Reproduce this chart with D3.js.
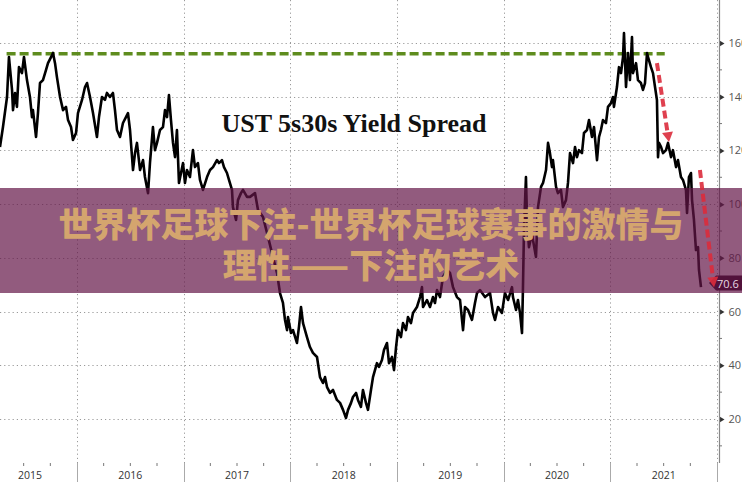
<!DOCTYPE html>
<html><head><meta charset="utf-8">
<script src="https://cdn.jsdelivr.net/npm/d3@7"></script>
<style>html,body{margin:0;padding:0;background:#fff;overflow:hidden}</style>
</head><body>
<svg id="c" width="742" height="482"></svg>
<script>
// ---- data (decimal year, spread in bp) ----
const dates = [2015.278,2015.306,2015.344,2015.362,2015.391,2015.400,2015.419,2015.437,2015.456,2015.484,2015.503,2015.531,2015.559,2015.578,2015.587,2015.616,2015.634,2015.653,2015.681,2015.709,2015.728,2015.766,2015.775,2015.794,2015.812,2015.841,2015.869,2015.897,2015.916,2015.944,2015.962,2015.991,
2016.009,2016.047,2016.075,2016.094,2016.122,2016.150,2016.187,2016.206,2016.234,2016.262,2016.281,2016.309,2016.337,2016.356,2016.375,2016.403,2016.431,2016.459,2016.478,2016.497,2016.525,2016.544,2016.562,2016.591,2016.619,2016.637,2016.666,2016.684,2016.712,2016.731,2016.750,2016.778,2016.806,2016.825,2016.844,2016.862,2016.881,2016.900,2016.919,2016.937,2016.956,2016.975,2016.994,
2017.012,2017.031,2017.059,2017.087,2017.106,2017.134,2017.153,2017.181,2017.219,2017.247,2017.275,2017.312,2017.331,2017.359,2017.378,2017.406,2017.425,2017.453,2017.462,2017.491,2017.509,2017.537,2017.556,2017.594,2017.622,2017.669,2017.697,2017.744,2017.791,2017.837,2017.875,2017.903,2017.931,2017.950,2017.969,2017.978,
2018.006,2018.025,2018.062,2018.081,2018.100,2018.119,2018.156,2018.184,2018.212,2018.250,2018.278,2018.306,2018.325,2018.344,2018.372,2018.400,2018.437,2018.466,2018.494,2018.522,2018.541,2018.569,2018.587,2018.616,2018.634,2018.662,2018.681,2018.709,2018.728,2018.756,2018.775,2018.812,2018.831,2018.859,2018.878,2018.906,2018.925,2018.953,2018.972,2018.991,
2019.009,2019.037,2019.056,2019.084,2019.103,2019.131,2019.150,2019.187,2019.216,2019.234,2019.244,2019.281,2019.309,2019.337,2019.356,2019.375,2019.403,2019.431,2019.469,2019.497,2019.525,2019.562,2019.591,2019.619,2019.637,2019.666,2019.703,2019.731,2019.750,2019.778,2019.825,2019.872,2019.900,2019.919,2019.947,2019.984,
2020.012,2020.041,2020.078,2020.087,2020.116,2020.134,2020.153,2020.172,2020.181,2020.191,2020.209,2020.219,2020.237,2020.266,2020.275,2020.303,2020.322,2020.350,2020.369,2020.397,2020.416,2020.434,2020.453,2020.462,2020.491,2020.509,2020.537,2020.556,2020.584,2020.603,2020.622,2020.650,2020.669,2020.687,2020.706,2020.734,2020.753,2020.781,2020.800,2020.828,2020.847,2020.875,2020.894,2020.912,2020.931,2020.959,2020.978,
2021.006,2021.025,2021.034,2021.062,2021.081,2021.100,2021.119,2021.128,2021.147,2021.166,2021.184,2021.203,2021.212,2021.241,2021.259,2021.287,2021.306,2021.325,2021.344,2021.353,2021.381,2021.400,2021.419,2021.437,2021.447,2021.456,2021.475,2021.494,2021.522,2021.541,2021.569,2021.587,2021.616,2021.634,2021.662,2021.681,2021.709,2021.719,2021.737,2021.756,2021.766,2021.784,2021.803,2021.822,2021.831,2021.850];
const spread = [121.3,128.7,139.9,154.8,142.5,135.0,141.4,136.2,151.0,148.8,154.8,146.2,139.9,132.4,135.0,125.0,133.9,145.1,146.2,149.9,152.5,155.5,156.3,152.5,147.3,139.9,135.0,136.2,131.3,128.7,123.9,126.5,
133.9,138.8,143.6,145.1,139.9,133.9,125.0,132.4,139.9,138.8,141.4,139.9,141.4,135.0,127.6,125.0,130.2,132.4,133.9,127.6,112.7,119.0,122.8,112.7,116.4,110.1,104.1,115.3,128.7,120.1,122.8,127.6,128.7,135.0,132.4,140.6,131.3,122.8,117.5,127.6,107.9,111.6,115.3,
107.9,112.7,110.1,120.1,113.8,115.3,109.0,105.3,110.1,112.7,113.8,116.4,115.3,116.4,113.8,111.6,109.0,105.3,98.9,94.1,101.5,104.1,105.3,102.7,102.7,104.1,97.8,95.2,87.8,80.3,74.4,66.9,63.2,56.9,53.1,58.0,
52.0,53.1,48.3,54.3,61.7,55.7,50.5,46.8,44.6,43.1,35.6,33.4,35.6,31.9,29.7,30.8,27.1,26.0,23.4,20.4,23.4,26.0,28.2,29.7,27.1,24.5,30.8,26.0,23.4,30.8,35.6,40.8,39.4,42.0,45.7,48.3,40.8,43.1,38.2,46.8,
53.1,50.5,55.7,53.1,58.0,55.7,59.5,61.7,65.4,69.1,61.7,64.3,61.7,65.4,63.2,68.0,65.4,72.9,75.5,74.4,69.1,65.4,64.3,53.1,61.7,60.6,56.9,63.2,66.9,68.0,65.4,66.9,59.5,56.9,61.7,59.5,
66.9,64.3,69.1,65.4,60.6,64.3,59.5,52.0,69.1,91.5,110.1,94.1,84.0,89.2,86.6,80.3,98.9,106.4,107.9,112.7,122.8,119.0,113.8,116.4,106.4,104.1,105.3,98.9,101.5,107.9,119.0,115.3,121.3,117.5,120.1,119.0,126.5,127.6,131.3,125.0,128.7,116.4,125.0,127.6,131.3,130.2,136.2,
137.6,139.9,136.2,143.6,151.0,148.8,154.8,163.7,143.6,156.3,146.2,162.2,148.8,152.5,146.2,145.1,142.5,145.1,156.3,154.8,151.0,148.8,143.6,138.8,117.5,122.8,121.3,119.0,120.1,122.8,117.5,120.1,113.8,116.4,110.1,109.0,105.3,96.7,110.1,111.6,101.5,94.1,82.9,84.0,75.5,69.1];

const yTicks = [20,40,60,80,100,120,140,160];
const yMinorTicks = [10,30,50,70,90,110,130,150];
const yearLabels = ["2015","2016","2017","2018","2019","2020","2021"];
const yearStarts = [2015,2016,2017,2018,2019,2020,2021,2022];
const refLevel = 156;                  // green dashed "prior peak" line
const refSpan = [2015.34, 2021.51];
const arrow1 = [[2021.437,152.5],[2021.550,123.1]];
const arrow2 = [[2021.840,112.7],[2021.972,69.1]];
const lastLabel = "70.6";
const lastValue = 70.6;
const titleText = "UST 5s30s Yield Spread";
const bannerLines = ["世界杯足球下注-世界杯足球赛事的激情与","理性——下注的艺术"];

// ---- drawing ----
const svg = d3.select("#c");
const W = 742, H = 482, plotR = 719, plotB = 463;
const x = d3.scaleLinear().domain([2016, 2022]).range([77, 717]);
const y = d3.scaleLinear().domain([20, 160]).range([419, 43]);

svg.append("rect").attr("width", W).attr("height", H).attr("fill", "#fff");
svg.append("clipPath").attr("id","pc").append("rect").attr("x",0).attr("y",0).attr("width",plotR).attr("height",plotB);

// gridlines
const grid = svg.append("g").attr("stroke","#9a9a9a").attr("stroke-width",1).attr("stroke-dasharray","1.2,3");
grid.selectAll(".h").data(yTicks).join("line")
  .attr("x1",0).attr("x2",717).attr("y1",d=>Math.round(y(d))+0.5).attr("y2",d=>Math.round(y(d))+0.5);
grid.selectAll(".v").data(yearStarts.slice(1)).join("line")
  .attr("x1",d=>Math.round(x(d))+0.5).attr("x2",d=>Math.round(x(d))+0.5).attr("y1",0).attr("y2",plotB);

// right axis
const ax = svg.append("g").attr("transform",`translate(${plotR+0.5},0)`)
  .call(d3.axisRight(y).tickValues(yTicks).tickSize(0).tickPadding(9).tickFormat(d3.format("d")));
ax.select(".domain").remove();
ax.selectAll("text").attr("font-family","Open Sans, sans-serif").attr("font-size",11).attr("fill","#555");
ax.selectAll(".tick").append("path").attr("d","M0,-3L5,0L0,3Z").attr("fill","#333");
svg.append("line").attr("x1",plotR+0.5).attr("x2",plotR+0.5).attr("y1",0).attr("y2",plotB).attr("stroke","#888").attr("stroke-width",1.2);
svg.selectAll(".mt").data(yMinorTicks).join("line")
  .attr("x1",plotR).attr("x2",plotR+3).attr("y1",d=>y(d)).attr("y2",d=>y(d)).attr("stroke","#777");

// bottom axis band
const quarters = [];
yearStarts.slice(0,-1).forEach(yr => [0.25,0.5,0.75].forEach(q => quarters.push(yr+q)));
svg.selectAll(".qt").data(quarters.filter(d=>x(d)>0)).join("line")
  .attr("x1",d=>x(d)).attr("x2",d=>x(d)).attr("y1",plotB).attr("y2",plotB+3).attr("stroke","#777");
svg.selectAll(".ys").data(yearStarts.slice(1)).join("line")
  .attr("x1",d=>Math.round(x(d))+0.5).attr("x2",d=>Math.round(x(d))+0.5)
  .attr("y1",plotB).attr("y2",H).attr("stroke","#aaa");
svg.selectAll(".yl").data(yearLabels).join("text")
  .attr("x",(d,i)=>Math.max(30,(x(yearStarts[i])+x(yearStarts[i+1]))/2))
  .attr("y",476).attr("text-anchor","middle").attr("dominant-baseline","middle")
  .attr("font-family","Open Sans, sans-serif").attr("font-size",10.5).attr("fill","#333").text(d=>d);

// title
svg.append("text").attr("x",354).attr("y",132).attr("text-anchor","middle")
  .attr("font-family","Liberation Serif, serif").attr("font-weight","bold").attr("font-size",26)
  .attr("fill","#111").text(titleText);

// reference line
svg.append("line").attr("x1",x(refSpan[0])).attr("x2",x(refSpan[1]))
  .attr("y1",y(refLevel)).attr("y2",y(refLevel))
  .attr("stroke","#5e8c1e").attr("stroke-width",3.6).attr("stroke-dasharray","9,4");

// series
const pts = dates.map((d,i)=>[d,spread[i]]);
svg.append("path").datum(pts).attr("clip-path","url(#pc)")
  .attr("fill","none").attr("stroke","#000").attr("stroke-width",2.6).attr("stroke-linejoin","round")
  .attr("d", d3.line().x(d=>x(d[0])).y(d=>y(d[1])));

// last value label
const ly = y(lastValue);
svg.append("path").attr("d",`M709,${ly}L716,${ly-7.5}L742,${ly-7.5}L742,${ly+7.5}L716,${ly+7.5}Z`).attr("fill","#2a0a20");

// banner overlay
svg.append("rect").attr("x",0).attr("y",188).attr("width",W).attr("height",105).attr("fill","rgba(100,22,71,0.7)");
svg.selectAll(".bt").data(bannerLines).join("text")
  .attr("x",371).attr("y",(d,i)=>222+i*41).attr("text-anchor","middle").attr("dominant-baseline","central")
  .attr("font-family","Noto Sans CJK SC, sans-serif").attr("font-weight","900").attr("font-size",34)
  .attr("fill","#d4a56e").text(d=>d);

svg.append("text").attr("x",717).attr("y",ly).attr("dominant-baseline","central")
  .attr("font-family","Open Sans, sans-serif").attr("font-size",11).attr("fill","#e6d8e2").text(lastLabel);

// red arrows
function arrow(a){
  const p0=[x(a[0][0]),y(a[0][1])], p1=[x(a[1][0]),y(a[1][1])];
  const ang=Math.atan2(p1[1]-p0[1],p1[0]-p0[0]);
  const hl=10, hw=5.5;
  const bx=p1[0]-hl*Math.cos(ang), by=p1[1]-hl*Math.sin(ang);
  const g=svg.append("g").attr("opacity",0.9);
  g.append("line").attr("x1",p0[0]).attr("y1",p0[1]).attr("x2",bx).attr("y2",by)
    .attr("stroke","#dc2c3c").attr("stroke-width",4).attr("stroke-dasharray","8,4");
  g.append("path").attr("d",`M${p1[0]},${p1[1]}L${bx+hw*Math.sin(ang)},${by-hw*Math.cos(ang)}L${bx-hw*Math.sin(ang)},${by+hw*Math.cos(ang)}Z`)
    .attr("fill","#dc2c3c");
}
arrow(arrow1); arrow(arrow2);
</script>
</body></html>
